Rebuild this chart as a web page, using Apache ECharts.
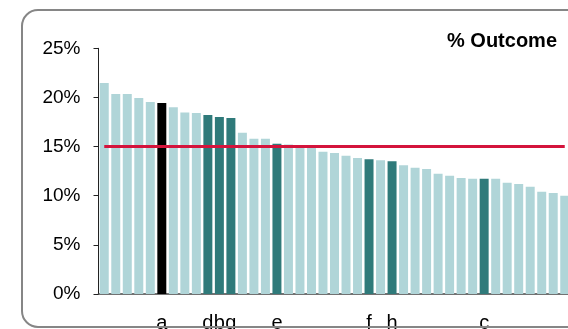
<!DOCTYPE html>
<html>
<head>
<meta charset="utf-8">
<script src="https://cdn.jsdelivr.net/npm/echarts@6/dist/echarts.min.js"></script>
<style>
html,body{margin:0;padding:0;background:#fff;}
#c{width:568px;height:329px;}
</style>
</head>
<body>
<div id="c"></div>
<script>
// Category labels (one per bar; most are blank)
var labels = ['', '', '', '', '', 'a', '', '', '', 'd', 'b', 'g', '', '', '', 'e', '', '', '', '', '', '', '', 'f', '', 'h', '', '', '', '', '', '', '', 'c', '', '', '', '', '', '', ''];
// Outcome values (%)
var values = [21.46, 20.35, 20.35, 19.94, 19.53, 19.43, 18.99, 18.48, 18.41, 18.21, 18.0, 17.9, 16.41, 15.8, 15.8, 15.29, 15.2, 15.0, 14.9, 14.48, 14.34, 14.07, 13.83, 13.7, 13.6, 13.5, 13.09, 12.85, 12.72, 12.24, 12.04, 11.8, 11.73, 11.73, 11.73, 11.32, 11.19, 10.91, 10.4, 10.27, 10.0];
// Bar kind: 0 = others, 1 = highlighted, 2 = selected
var kinds = [0, 0, 0, 0, 0, 2, 0, 0, 0, 1, 1, 1, 0, 0, 0, 1, 0, 0, 0, 0, 0, 0, 0, 1, 0, 1, 0, 0, 0, 0, 0, 0, 0, 1, 0, 0, 0, 0, 0, 0, 0];
// Reference line value (%)
var target = 15;
// Y tick settings
var yMin = 0, yMax = 25, yStep = 5;
var title = '% Outcome';

var kindColors = ['#b0d5d8', '#2f7a7a', '#000000'];

var chart = echarts.init(document.getElementById('c'), null, {renderer: 'canvas'});
var barData = values.map(function (v, i) {
  return {value: v, itemStyle: {color: kindColors[kinds[i]]}};
});
var lineData = values.map(function () { return target; });

chart.setOption({
  animation: false,
  backgroundColor: '#ffffff',
  textStyle: {fontFamily: 'Liberation Sans, Arial, sans-serif'},
  grid: {left: 98.5, top: 48.3, width: 472, height: 245.7, containLabel: false, outerBoundsMode: 'none'},
  xAxis: {
    type: 'category',
    data: labels,
    axisLine: {show: true, lineStyle: {color: '#444', width: 1.5}},
    axisTick: {show: false},
    axisLabel: {interval: 0, color: '#000', fontSize: 20, margin: 19, fontFamily: 'Liberation Sans, Arial, sans-serif'},
    splitLine: {show: false}
  },
  yAxis: {
    type: 'value',
    min: yMin, max: yMax, interval: yStep,
    axisLine: {show: true, lineStyle: {color: '#222', width: 1}},
    axisTick: {show: true, length: 5, inside: false, lineStyle: {color: '#222'}},
    axisLabel: {formatter: '{value}%', color: '#000', fontSize: 19, margin: 18, fontFamily: 'Liberation Sans, Arial, sans-serif'},
    splitLine: {show: false}
  },
  series: [
    {
      type: 'bar',
      data: barData,
      barCategoryGap: '22%',
      silent: true
    },
    {
      type: 'line',
      data: lineData,
      symbol: 'none',
      lineStyle: {color: '#d4143c', width: 3},
      silent: true,
      z: 5
    }
  ],
  graphic: [
    {
      type: 'rect',
      shape: {x: 22, y: 10, width: 560, height: 317, r: 16},
      style: {fill: 'none', stroke: '#868686', lineWidth: 2},
      z: 100,
      silent: true
    },
    {
      type: 'text',
      x: 557, y: 41.5,
      style: {text: title, font: 'bold 20px "Liberation Sans", Arial, sans-serif', fill: '#000', align: 'right', verticalAlign: 'middle'},
      z: 100
    }
  ]
});
</script>
</body>
</html>
